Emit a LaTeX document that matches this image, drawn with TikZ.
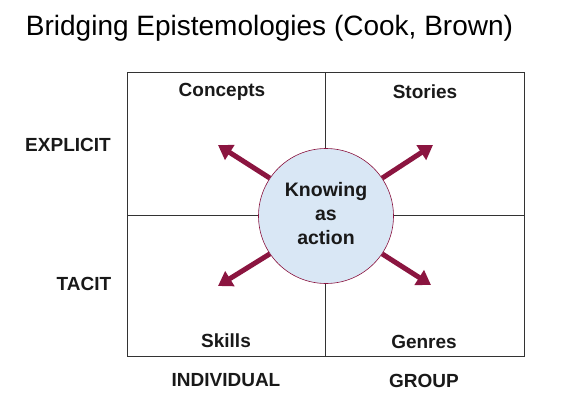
\documentclass[tikz,border=0pt]{standalone}
\usepackage{fontspec}
\setmainfont{Liberation Sans}
\usetikzlibrary{arrows.meta}
\definecolor{arr}{HTML}{8B1540}
\definecolor{cfill}{HTML}{D9E7F5}
\tikzset{
  lbl/.style={font=\bfseries\fontsize{19}{22}\selectfont, text=black!90, inner sep=0pt},
  grid/.style={draw=black!80, line width=1pt},
  outarrow/.style={draw=arr, line width=5pt, -{Triangle[width=17pt,length=14pt]}},
}
\begin{document}
\begin{tikzpicture}[x=1pt,y=-1pt]
\useasboundingbox (0,0) rectangle (571,404);
\node[font=\fontsize{28}{32}\selectfont, anchor=center, inner sep=0pt] (title) at (269.5,28) {Bridging Epistemologies (Cook, Brown)};
\draw[grid] (127,73) rectangle (524,356);
\coordinate (top) at (325,73);
\coordinate (bot) at (325,356);
\coordinate (lft) at (127,215);
\coordinate (rgt) at (524,215);
\draw[grid] (top) -- (bot);
\draw[grid] (lft) -- (rgt);
\node[circle, draw=arr, line width=0.6pt, fill=cfill, minimum size=135pt, inner sep=0pt] (know) at (326,216) {};
\node[align=center, font=\bfseries\fontsize{19.5}{24}\selectfont, text=black!90, inner sep=0pt] (knowtxt) at (326,214) {Knowing\\as\\action};
\node[lbl] (concepts) at (222,92) {Concepts};
\node[lbl] (stories) at (425,92) {Stories};
\node[lbl] (skills) at (226,341) {Skills};
\node[lbl] (genres) at (424,342) {Genres};
\node[lbl] (explicit) at (68,145) {EXPLICIT};
\node[lbl] (tacit) at (84,284) {TACIT};
\node[lbl] (indiv) at (226,380) {INDIVIDUAL};
\node[lbl] (group) at (424,381) {GROUP};
\coordinate (t1) at (218,145);
\coordinate (t2) at (433,145);
\coordinate (t3) at (218,286);
\coordinate (t4) at (431,285);
\draw[outarrow] (know.146) -- (t1);
\draw[outarrow] (know.34) -- (t2);
\draw[outarrow] (know.214) -- (t3);
\draw[outarrow] (know.-34) -- (t4);
\end{tikzpicture}
\end{document}
